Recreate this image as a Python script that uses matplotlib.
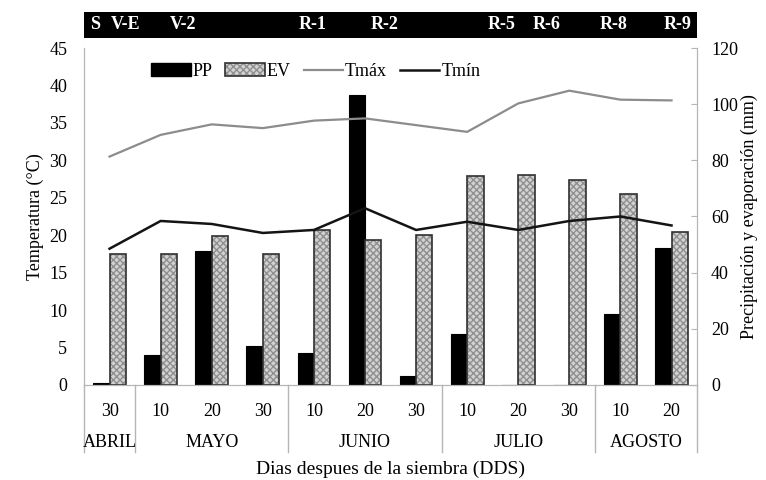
import matplotlib
matplotlib.use("Agg")
import matplotlib.pyplot as plt
from matplotlib.patches import Patch, Rectangle
from matplotlib.lines import Line2D
import matplotlib.transforms as mtransforms

plt.rcParams['font.family'] = ['Liberation Serif', 'DejaVu Serif']

# datos por decena
dias = ["30", "10", "20", "30", "10", "20", "30", "10", "20", "30", "10", "20"]
meses = ["ABRIL", "MAYO", "JUNIO", "JULIO", "AGOSTO"]
decenas_mes = [1, 3, 3, 3, 2]

pp = [0.6, 10.7, 47.8, 14.0, 11.4, 103.2, 3.2, 18.0, 0.0, 0.0, 25.3, 48.8]
ev = [46.5, 46.5, 53.0, 46.5, 55.2, 51.6, 53.4, 74.4, 74.8, 73.0, 68.1, 54.4]
tmax = [30.5, 33.4, 34.8, 34.3, 35.3, 35.6, 34.7, 33.8, 37.6, 39.3, 38.1, 38.0]
tmin = [18.2, 21.9, 21.5, 20.3, 20.7, 23.6, 20.7, 21.8, 20.7, 21.9, 22.5, 21.3]

# etapas fenologicas (posicion en decenas)
etapas = ["S", "V-E", "V-2", "R-1", "R-2", "R-5", "R-6", "R-8", "R-9"]
etapas_x = [-0.28, 0.32, 1.44, 3.98, 5.39, 7.68, 8.56, 9.86, 11.11]

gris = '#b5b5b5'
fs = 13

fig = plt.figure(figsize=(7.66, 4.8), dpi=100)
ax = fig.add_axes([0.1097, 0.198, 0.8003, 0.702])
ax2 = ax.twinx()

x = list(range(len(dias)))
w = 0.32

# barras en el eje derecho (mm)
ax2.bar([i - w / 2 for i in x], pp, w, color='black', edgecolor='black', lw=0.8)
ax2.bar([i + w / 2 for i in x], ev, w, color='#d2d2d2', edgecolor='#8f8f8f',
        hatch='xxxxx', lw=0)
ax2.bar([i + w / 2 for i in x], ev, w, color='none', edgecolor='#303030', lw=1.2)
ax2.set_ylim(0, 120)
ax2.set_yticks(range(0, 121, 20))

# temperaturas por encima de las barras
ax.set_zorder(ax2.get_zorder() + 1)
ax.patch.set_visible(False)
ax.plot(x, tmax, color='#8c8c8c', lw=1.6)
ax.plot(x, tmin, color='#141414', lw=1.8)
ax.set_ylim(0, 45)
ax.set_yticks(range(0, 46, 5))
ax.set_xlim(-0.5, len(dias) - 0.5)

for a in (ax, ax2):
    for s in a.spines.values():
        s.set_color(gris)
    a.spines['top'].set_visible(False)
    a.tick_params(labelsize=fs)
ax.tick_params(axis='y', length=0, pad=12)
ax2.tick_params(axis='y', direction='in', length=4, color=gris, pad=10)

ax.set_xticks(x)
ax.set_xticklabels(dias, fontsize=fs)
ax.tick_params(axis='x', length=0, pad=13)

# meses y separadores bajo el eje
trans = mtransforms.blended_transform_factory(ax.transData, ax.transAxes)
inicio = -0.5
for mes, n in zip(meses, decenas_mes):
    ax.text(inicio + n / 2, -0.172, mes, transform=trans, ha='center', va='center',
            fontsize=fs)
    ax.add_line(Line2D([inicio, inicio], [0, -0.2], transform=trans, color=gris,
                       lw=1, clip_on=False))
    inicio += n
ax.add_line(Line2D([inicio, inicio], [0, -0.2], transform=trans, color=gris,
                   lw=1, clip_on=False))

ax.text(5.5, -0.25, "Dias despues de la siembra (DDS)", transform=trans,
        ha='center', va='center', fontsize=14)
ax.set_ylabel("Temperatura (°C)", fontsize=fs, labelpad=4)
ax2.set_ylabel("Precipitación y evaporación (mm)", fontsize=fs, labelpad=2)

# franja de etapas
tb = mtransforms.blended_transform_factory(ax.transData, fig.transFigure)
fig.patches.append(Rectangle((-0.5, 0.921), len(dias), 0.054, transform=tb,
                             facecolor='black', edgecolor='none'))
for e, ex in zip(etapas, etapas_x):
    fig.text(ex, 0.948, e, transform=tb, color='white', fontsize=fs,
             fontweight='bold', ha='center', va='center')

handles = [
    Patch(facecolor='black', edgecolor='black'),
    (Patch(facecolor='#d2d2d2', edgecolor='#8f8f8f', hatch='xxxxx', lw=0),
     Patch(facecolor='none', edgecolor='#303030', lw=1.2)),
    Line2D([], [], color='#8c8c8c', lw=1.6),
    Line2D([], [], color='#141414', lw=1.8),
]
ax.legend(handles, ["PP", "EV", "Tmáx", "Tmín"], loc='center',
          bbox_to_anchor=(0.378, 0.93), ncol=4, frameon=False, fontsize=fs,
          handlelength=2.2, handletextpad=0.1, columnspacing=0.7)

fig.savefig("out.png", dpi=100)
